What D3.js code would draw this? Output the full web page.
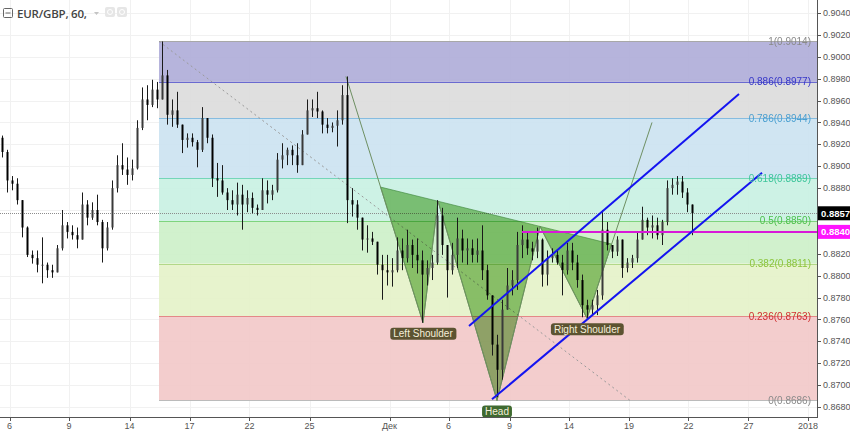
<!DOCTYPE html>
<html><head><meta charset="utf-8">
<script src="https://cdn.jsdelivr.net/npm/d3@7"></script>
<style>body{margin:0;background:#fff;} svg{display:block;}</style>
</head><body><svg id="c" width="850" height="432"></svg>
<script>
// ---------- DATA ----------
const tickIdx = [1.4, 13.3, 25.4, 37.4, 49.4, 61.4, 77.4, 89.2, 101.4, 113.3, 125.3, 137.2, 149.2, 161.1];
const tickLabels = ["6","9","14","17","22","25","Дек","6","9","14","19","22","27","2018"];
const priceTicks = [0.8680,0.8700,0.8720,0.8740,0.8760,0.8780,0.8800,0.8820,0.8840,0.8860,0.8880,0.8900,0.8920,0.8940,0.8960,0.8980,0.9000,0.9020,0.9040];

const fibRatios = ["1","0.886","0.786","0.618","0.5","0.382","0.236","0"];
const fibPrices = [0.9014,0.8977,0.8944,0.8889,0.8850,0.8811,0.8763,0.8686];
const fibStart = [31.3, 0.9014];
const fibEnd = [125.5, 0.8686];

// candles: [open, high, low, close]
const candlesA = [
[.8926,.8928,.8908,.8913],[.8913,.8915,.8876,.8887],[.8887,.8891,.8878,.8884],[.8884,.8889,.8865,.8869],
[.8869,.8869,.8835,.8844],[.8844,.8845,.8817,.8819],[.8819,.8823,.8811,.8816],[.8816,.8823,.8803,.8810],
[.8810,.8835,.8793,.8810],[.8810,.8812,.8798,.8805],[.8805,.8810,.8798,.8803],[.8803,.8828,.8803,.8825],
[.8825,.8860,.8823,.8846],[.8846,.8849,.8834,.8840],[.8840,.8846,.8833,.8837],[.8837,.8844,.8825,.8833],
[.8833,.8876,.8833,.8865],[.8865,.8869,.8846,.8853],[.8853,.8867,.8851,.8860],[.8860,.8874,.8846,.8849],
[.8849,.8851,.8812,.8825],[.8825,.8849,.8823,.8844],[.8844,.8887,.8842,.8880],[.8880,.8910,.8876,.8901],
[.8901,.8921,.8892,.8897],[.8897,.8908,.8883,.8892],[.8892,.8906,.8887,.8898],[.8898,.8942,.8897,.8935],
[.8935,.8972,.8933,.8961],[.8961,.8974,.8942,.8956],[.8956,.8979,.8954,.8970],[.8970,.8977,.8953,.8961],
[.8961,.9014,.8961,.8983],[.8983,.8988,.8938,.8947],[.8947,.8961,.8936,.8951],[.8951,.8968,.8935,.8938],
[.8938,.8938,.8912,.8924],[.8924,.8930,.8917,.8926],[.8926,.8930,.8918,.8922],[.8922,.8924,.8899,.8915],
[.8915,.8954,.8913,.8944],[.8944,.8944,.8921,.8926],[.8926,.8929,.8881,.8889],[.8889,.8903,.8872,.8887],
[.8887,.8901,.8874,.8876],[.8876,.8880,.8860,.8869]];
const candlesB = [
[.8869,.8878,.8860,.8865],[.8865,.8885,.8855,.8874],[.8874,.8883,.8842,.8865],[.8865,.8878,.8858,.8871],
[.8871,.8876,.8857,.8862],[.8862,.8865,.8855,.8860],[.8860,.8889,.8860,.8878],[.8878,.8887,.8866,.8874],
[.8874,.8883,.8869,.8878],[.8878,.8912,.8876,.8906],[.8906,.8921,.8898,.8910],[.8910,.8917,.8901,.8915],
[.8915,.8919,.8901,.8910],[.8910,.8921,.8894,.8901],[.8901,.8933,.8901,.8929],[.8929,.8961,.8929,.8951],
[.8951,.8961,.8945,.8953],[.8953,.8968,.8944,.8950],[.8950,.8951,.8930,.8938],[.8938,.8944,.8930,.8935],
[.8935,.8940,.8931,.8937],[.8937,.8951,.8918,.8942],[.8942,.8974,.8938,.8965],[.8965,.8982,.8848,.8869],
[.8869,.8880,.8854,.8865],[.8865,.8869,.8842,.8853],[.8853,.8853,.8823,.8833],[.8833,.8846,.8821,.8834],
[.8834,.8840,.8828,.8831],[.8831,.8831,.8801,.8810],[.8810,.8819,.8778,.8805],[.8805,.8819,.8791,.8803],
[.8803,.8816,.8790,.8805],[.8805,.8835,.8803,.8823],[.8823,.8834,.8805,.8816],[.8816,.8842,.8812,.8828],
[.8828,.8833,.8807,.8819],[.8819,.8834,.8802,.8814],[.8814,.8823,.8757,.8801],[.8801,.8814,.8791,.8807],
[.8807,.8819,.8796,.8812],[.8812,.8869,.8810,.8855],[.8855,.8862,.8819,.8828],[.8828,.8828,.8780,.8805],
[.8805,.8830,.8801,.8819],[.8819,.8853,.8807,.8834],[.8834,.8842,.8812,.8823]];
const candlesC = [
[.8823,.8834,.8810,.8825],[.8825,.8833,.8812,.8819],[.8819,.8834,.8812,.8823],[.8823,.8846,.8796,.8805],
[.8805,.8810,.8778,.8782],[.8782,.8782,.8727,.8737],[.8737,.8746,.8689,.8714],[.8714,.8778,.8705,.8769],
[.8769,.8807,.8769,.8791],[.8791,.8805,.8782,.8796],[.8796,.8840,.8787,.8828],[.8828,.8846,.8816,.8833],
[.8833,.8840,.8819,.8825],[.8825,.8831,.8814,.8822],[.8822,.8844,.8816,.8833],[.8833,.8834,.8790,.8801],
[.8801,.8823,.8791,.8816],[.8816,.8825,.8812,.8819],[.8819,.8823,.8810,.8812],[.8812,.8819,.8782,.8805],
[.8805,.8830,.8801,.8823],[.8823,.8830,.8805,.8812],[.8812,.8819,.8789,.8796],[.8796,.8801,.8762,.8773],
[.8773,.8778,.8761,.8769],[.8769,.8778,.8764,.8773],[.8773,.8787,.8764,.8782],[.8782,.8860,.8778,.8842],
[.8842,.8849,.8823,.8828],[.8828,.8828,.8816,.8822],[.8822,.8836,.8818,.8833],[.8833,.8833,.8798,.8807],
[.8807,.8816,.8803,.8812],[.8812,.8819,.8807,.8816],[.8816,.8840,.8812,.8833],[.8833,.8863,.8833,.8851],
[.8851,.8853,.8837,.8844],[.8844,.8855,.8834,.8846],[.8846,.8853,.8833,.8837],[.8837,.8851,.8828,.8849],
[.8849,.8887,.8846,.8880],[.8880,.8889,.8874,.8883],[.8883,.8891,.8874,.8886],[.8886,.8891,.8871,.8876],
[.8876,.8880,.8858,.8865],[.8865,.8865,.8837,.8857]];

// inverse head & shoulders points: start, left shoulder, neck1, head, neck2, right shoulder, end
const hsIdx   = [68.7, 84.1, 87.1, 98.9, 107.5, 116.9, 129.9];
const hsPrice = [0.8982, 0.8757, 0.8868, 0.8686, 0.8845, 0.8761, 0.8940];
const hsLabels = ["Left Shoulder", "Head", "Right Shoulder"];

// channel lines [idx, price]
const channelUpper = [[93.3, 0.8754], [147.3, 0.8966]];
const channelLower = [[97.9, 0.8687], [151.9, 0.8894]];
const magentaLevel = { start: 103.9, price: 0.8840 };
const lastPrice = 0.8857;

// ---------- STYLE ----------
const fibFill = ["#b0aed9","#dcdcdc","#cce3f1","#c9f1e3","#cdf0c9","#e5f2c9","#f2c9c9"];
const fibLine = ["#a8a8a8","#6a6ad0","#86bce0","#74d6b8","#7ed47e","#b2d888","#e48888","#bbbbbb"];
const fibText = ["#8a8a8a","#3636c8","#4a9fd0","#3ec59c","#4cc04c","#8cc43c","#d03030","#8a8a8a"];

const candles = candlesA.concat(candlesB, candlesC);
const plotR = 817, plotB = 417;
const svg = d3.select("#c");
const FONT = "'Liberation Sans', Arial, sans-serif";
const x = d3.scaleLinear().domain([-0.5, 162.9]).range([0, plotR]);
const y = d3.scaleLinear().domain([0.8680, 0.9040]).range([407, 13]);

svg.append("defs").append("clipPath").attr("id","plot")
  .append("rect").attr("x",0).attr("y",0).attr("width",plotR).attr("height",plotB);
svg.select("defs").append("clipPath").attr("id","xax")
  .append("rect").attr("x",0).attr("y",plotB).attr("width",plotR+1).attr("height",20);

const g = svg.append("g").attr("clip-path","url(#plot)");

// grid
g.selectAll("line.vg").data(tickIdx).join("line").attr("class","vg")
  .attr("x1",d=>Math.round(x(d))+0.5).attr("x2",d=>Math.round(x(d))+0.5)
  .attr("y1",0).attr("y2",plotB).attr("stroke","#f1f1f1");
g.selectAll("line.hg").data(priceTicks).join("line").attr("class","hg")
  .attr("y1",d=>Math.round(y(d))+0.5).attr("y2",d=>Math.round(y(d))+0.5)
  .attr("x1",0).attr("x2",plotR).attr("stroke","#f1f1f1");

// fib bands
const fx0 = x(fibStart[0]);
const bands = d3.range(fibPrices.length-1);
g.selectAll("rect.fb").data(bands).join("rect").attr("class","fb")
  .attr("x",fx0).attr("width",plotR-fx0)
  .attr("y",i=>y(fibPrices[i])).attr("height",i=>y(fibPrices[i+1])-y(fibPrices[i]))
  .attr("fill",i=>fibFill[i]).attr("opacity",0.92);
g.selectAll("line.fl").data(fibPrices).join("line").attr("class","fl")
  .attr("x1",fx0).attr("x2",plotR)
  .attr("y1",d=>Math.round(y(d))+0.5).attr("y2",d=>Math.round(y(d))+0.5)
  .attr("stroke",(d,i)=>fibLine[i]).attr("stroke-width",1);
// fib trend dotted
g.append("line").attr("x1",x(fibStart[0])).attr("y1",y(fibStart[1]))
  .attr("x2",x(fibEnd[0])).attr("y2",y(fibEnd[1]))
  .attr("stroke","#999").attr("stroke-width",1).attr("stroke-dasharray","2,3");

// last price dotted line
g.append("line").attr("x1",0).attr("x2",plotR)
  .attr("y1",Math.round(y(lastPrice))+0.5).attr("y2",Math.round(y(lastPrice))+0.5)
  .attr("stroke","#8c8c8c").attr("stroke-dasharray","1,1");

// H&S pattern
const P = hsIdx.map((d,i)=>[x(d), y(hsPrice[i])]);
function intersect(a,b,c,d){
  const den=(a[0]-b[0])*(c[1]-d[1])-(a[1]-b[1])*(c[0]-d[0]);
  const t=((a[0]-c[0])*(c[1]-d[1])-(a[1]-c[1])*(c[0]-d[0]))/den;
  return [a[0]+t*(b[0]-a[0]), a[1]+t*(b[1]-a[1])];
}
const nL = intersect(P[0],P[1],P[2],P[4]);
const nR = intersect(P[5],P[6],P[2],P[4]);
const tris = [[nL,P[1],P[2]],[P[2],P[3],P[4]],[P[4],P[5],nR]];
g.selectAll("path.tri").data(tris).join("path").attr("class","tri")
  .attr("d",d=>d3.line()(d)+"Z")
  .attr("fill","rgb(150,200,128)").style("mix-blend-mode","multiply")
  .attr("stroke","#4f8f45").attr("stroke-width",0.8).attr("stroke-opacity",0.8);
g.append("path").attr("d",d3.line()(P)).attr("fill","none")
  .attr("stroke","#6e8f62").attr("stroke-width",1);

// candles
const cg = g.append("g");
cg.selectAll("line.w").data(candles).join("line").attr("class","w")
  .attr("x1",(d,i)=>x(i)).attr("x2",(d,i)=>x(i))
  .attr("y1",d=>y(d[1])).attr("y2",d=>y(d[2]))
  .attr("stroke","#1a1a1a").attr("stroke-width",1);
cg.selectAll("rect.b").data(candles).join("rect").attr("class","b")
  .attr("x",(d,i)=>x(i)-1).attr("width",2)
  .attr("y",d=>y(Math.max(d[0],d[3])))
  .attr("height",d=>Math.max(1,Math.abs(y(d[0])-y(d[3]))))
  .attr("fill",d=>d[3]>=d[0]?"#3a3a3a":"#000");

// magenta level
g.append("line").attr("x1",x(magentaLevel.start)).attr("x2",plotR)
  .attr("y1",y(magentaLevel.price)).attr("y2",y(magentaLevel.price))
  .attr("stroke","#d81ad8").attr("stroke-width",2);

// channel lines
[channelUpper, channelLower].forEach(c=>{
  g.append("line").attr("x1",x(c[0][0])).attr("y1",y(c[0][1]))
    .attr("x2",x(c[1][0])).attr("y2",y(c[1][1]))
    .attr("stroke","#1414f0").attr("stroke-width",2);
});

// fib labels
g.selectAll("text.ft").data(fibPrices).join("text").attr("class","ft")
  .attr("x",811).attr("y",d=>y(d)).attr("dy","0.35em")
  .attr("text-anchor","end").attr("font-family",FONT).attr("font-size",10)
  .attr("fill",(d,i)=>fibText[i])
  .text((d,i)=>fibRatios[i]+"("+d.toFixed(4)+")");

// H&S labels
const labelPts = [P[1],P[3],P[5]];
const labelFill = ["#5c5331","#3f6a30","#5c5331"];
labelPts.forEach((p,i)=>{
  const t = svg.append("text").attr("x",p[0]).attr("y",p[1]+11).attr("dy","0.35em")
    .attr("text-anchor","middle").attr("font-family",FONT).attr("font-size",10)
    .attr("fill","#f4eed8").text(hsLabels[i]);
  const bb = t.node().getBBox();
  svg.insert("rect", () => t.node()).attr("x",bb.x-3).attr("y",p[1]+5).attr("width",bb.width+6)
    .attr("height",12).attr("rx",3).attr("fill",labelFill[i]);
});

// right axis (tick labels hidden behind the price tags are left out)
const tagPrices = [lastPrice, magentaLevel.price];
const visibleTicks = priceTicks.filter(p => tagPrices.every(tp => Math.abs(y(p)-y(tp)) > 9));
svg.append("line").attr("x1",plotR+0.5).attr("x2",plotR+0.5).attr("y1",0).attr("y2",plotB+1)
  .attr("stroke","#555");
const ra = svg.append("g");
ra.selectAll("line").data(priceTicks).join("line")
  .attr("x1",plotR).attr("x2",plotR+4)
  .attr("y1",d=>Math.round(y(d))+0.5).attr("y2",d=>Math.round(y(d))+0.5).attr("stroke","#555");
ra.selectAll("text").data(visibleTicks).join("text")
  .attr("x",plotR+6).attr("y",d=>y(d)).attr("dy","0.35em")
  .attr("font-family",FONT).attr("font-size",9).attr("fill","#555")
  .text(d=>d.toFixed(4));

// price tags
[[lastPrice,"#000"],[magentaLevel.price,"#ff14ff"]].forEach(([p,c])=>{
  svg.append("rect").attr("x",plotR+1).attr("y",y(p)-7).attr("width",33).attr("height",14).attr("fill",c);
  svg.append("text").attr("x",plotR+4).attr("y",y(p)).attr("dy","0.35em")
    .attr("font-family",FONT).attr("font-size",9.5).attr("font-weight","bold").attr("fill","#fff")
    .text(p.toFixed(4));
});

// bottom axis
svg.append("line").attr("x1",0).attr("x2",plotR+1).attr("y1",plotB+0.5).attr("y2",plotB+0.5).attr("stroke","#555");
const ba = svg.append("g").attr("clip-path","url(#xax)");
ba.selectAll("line").data(tickIdx).join("line")
  .attr("x1",d=>Math.round(x(d))+0.5).attr("x2",d=>Math.round(x(d))+0.5)
  .attr("y1",plotB).attr("y2",plotB+4).attr("stroke","#555");
ba.selectAll("text").data(tickIdx).join("text")
  .attr("x",d=>x(d)).attr("y",plotB+9).attr("dy","0.35em").attr("text-anchor","middle")
  .attr("font-family",FONT).attr("font-size",9).attr("fill","#555")
  .text((d,i)=>tickLabels[i]);

// header
svg.append("rect").attr("x",3.5).attr("y",8.5).attr("width",9).attr("height",9)
  .attr("fill","none").attr("stroke","#666").attr("rx",1);
svg.append("line").attr("x1",5.5).attr("x2",10.5).attr("y1",13).attr("y2",13).attr("stroke","#666");
svg.append("text").attr("x",17).attr("y",18).attr("font-family","'Open Sans', Arial, sans-serif")
  .attr("font-size",11.5).attr("font-weight",600).attr("fill","#444").attr("textLength",70)
  .text("EUR/GBP, 60,");
svg.append("path").attr("d","M94,12 L99,12 L96.5,15 Z").attr("fill","#c4c4c4");
[105,117].forEach(px=>{
  svg.append("rect").attr("x",px).attr("y",7).attr("width",10).attr("height",10).attr("rx",2)
    .attr("fill","#e6e6e6");
  svg.append("circle").attr("cx",px+5).attr("cy",12).attr("r",2.5).attr("fill","none").attr("stroke","#fff");
});
</script></body></html>
